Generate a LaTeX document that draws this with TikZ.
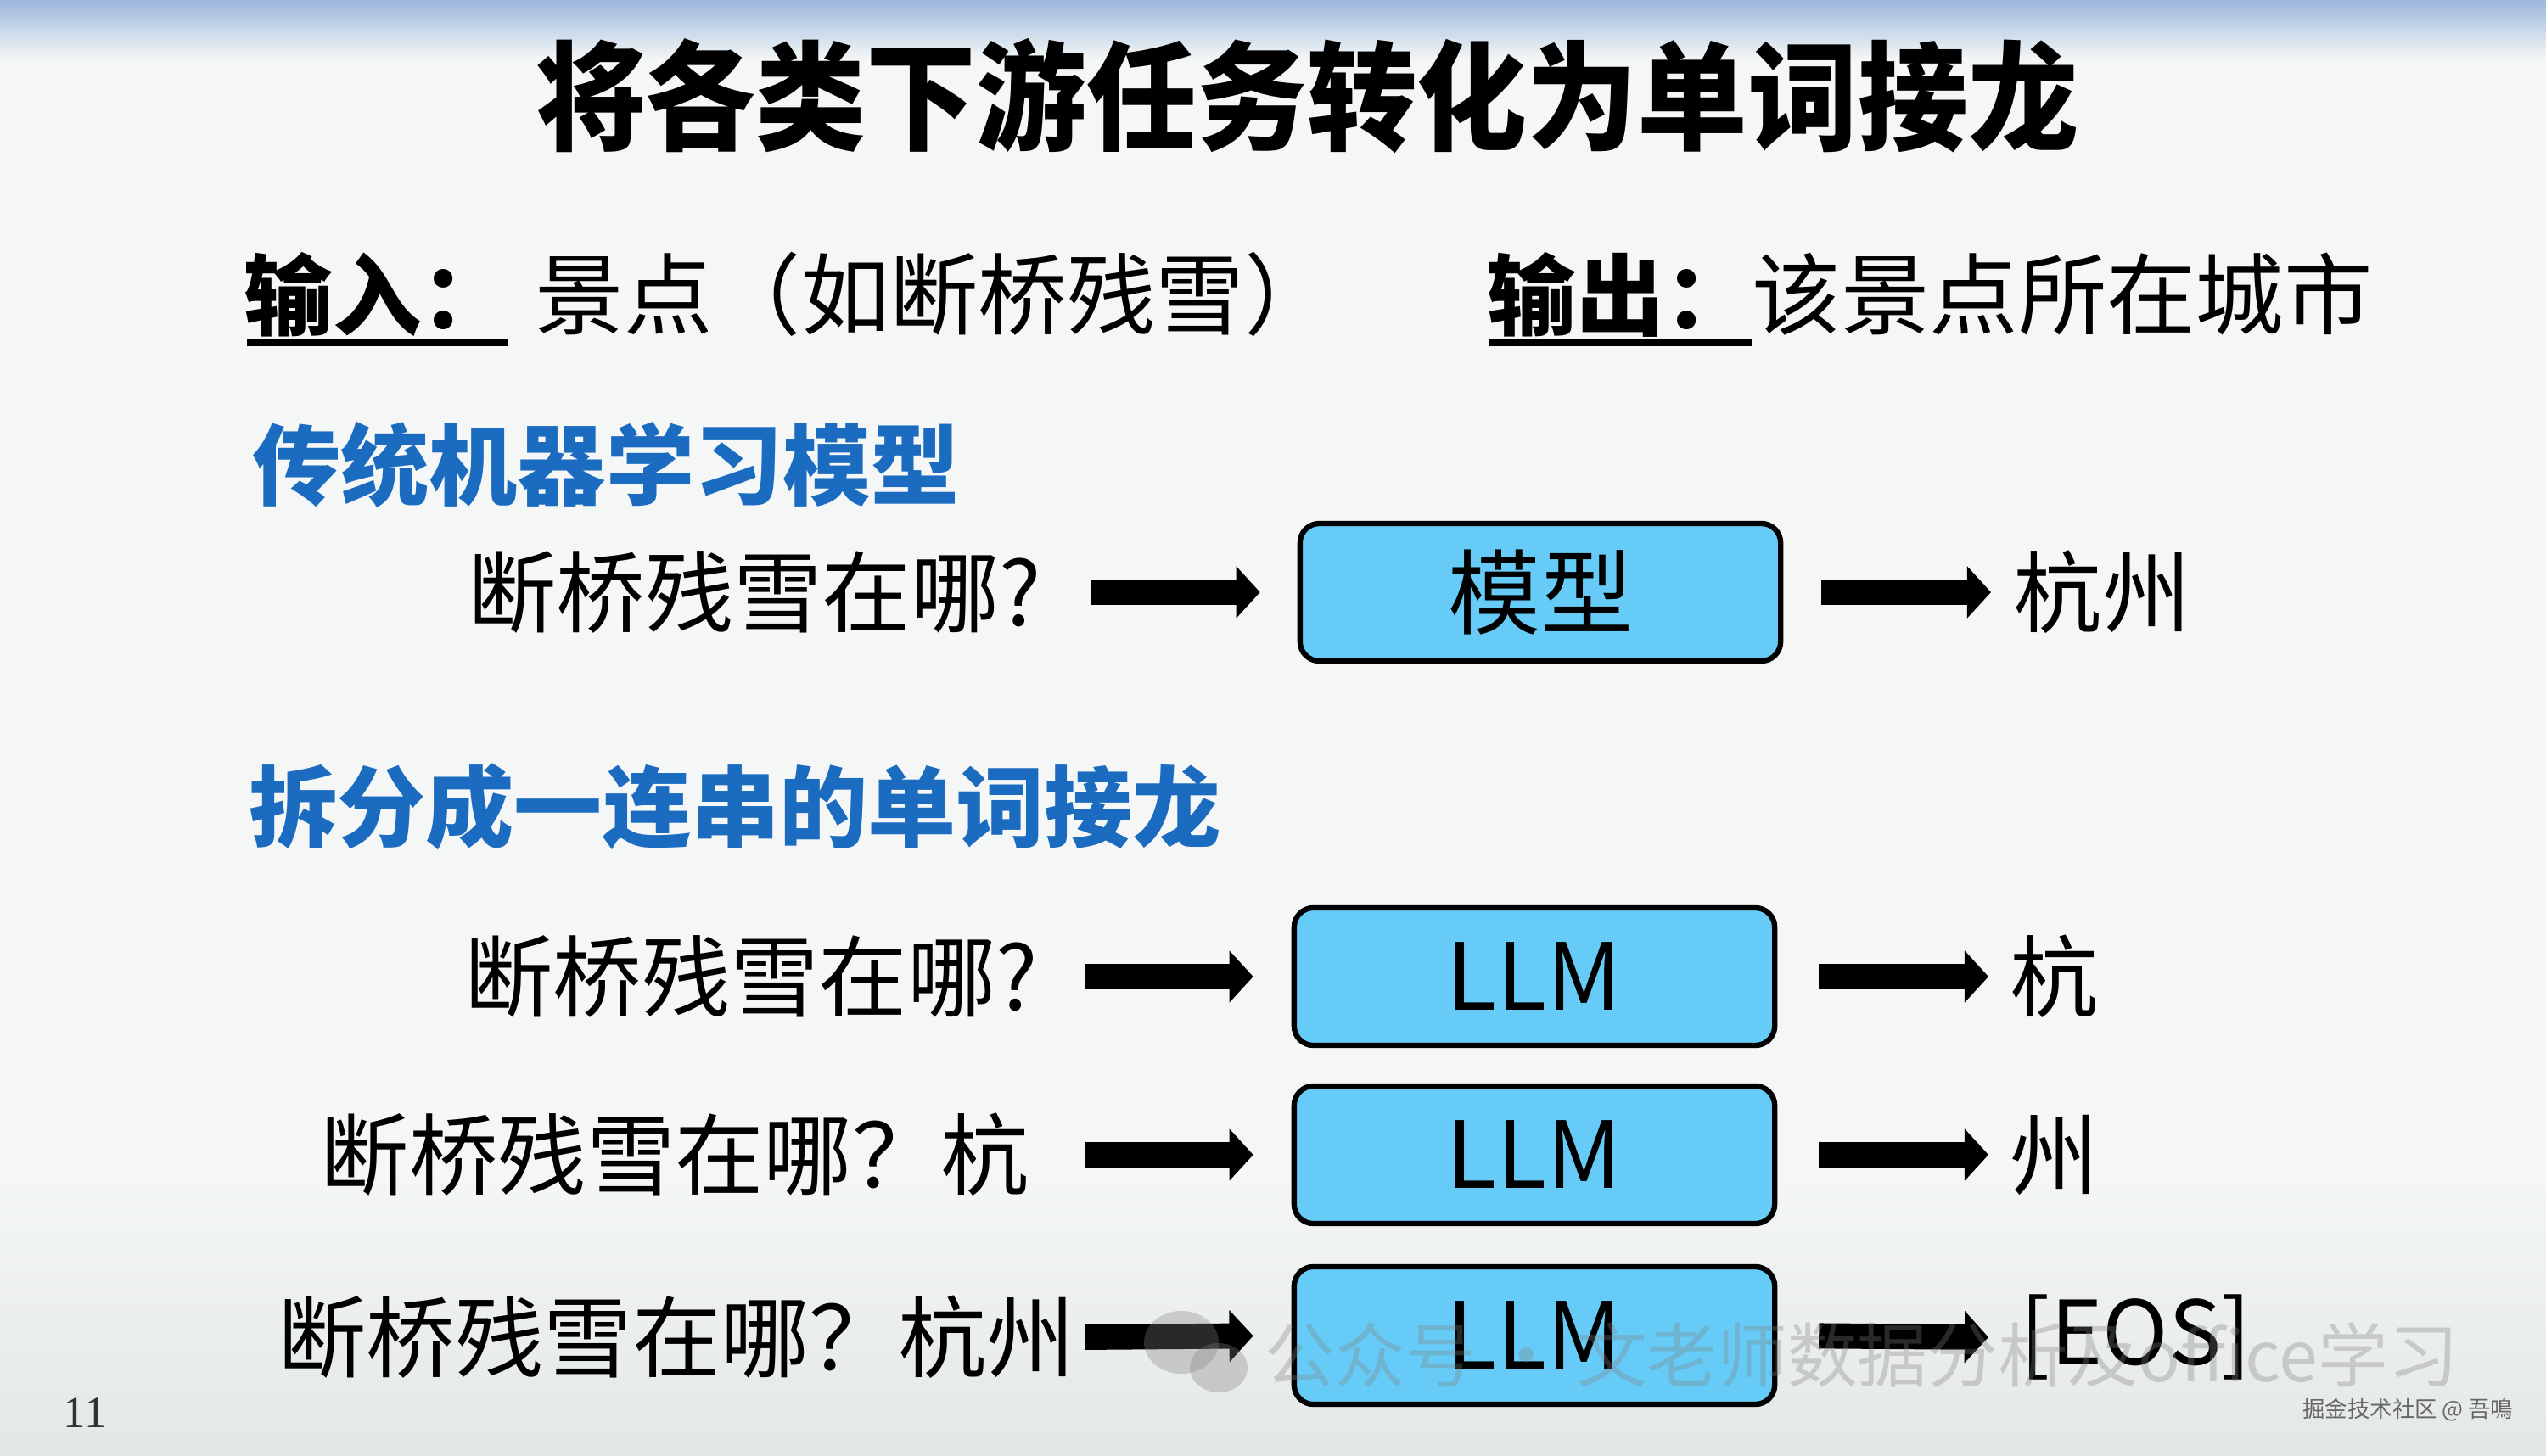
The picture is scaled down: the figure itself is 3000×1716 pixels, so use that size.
\documentclass[tikz,border=0pt]{standalone}
\usepackage{fontspec}
\setmainfont{Noto Sans CJK SC}
\setsansfont{Noto Sans CJK SC}
\newfontfamily\numfont{Liberation Serif}
\usetikzlibrary{arrows.meta,calc}
\definecolor{bgc}{HTML}{F4F7F6}
\definecolor{topblue}{HTML}{9DB7DC}
\definecolor{botgray}{HTML}{E3E7E5}
\definecolor{headblue}{HTML}{1B6CC0}
\definecolor{boxfill}{HTML}{66CCF7}
\tikzset{
  body/.style={inner sep=0pt, font=\fontsize{29.7pt}{29.7pt}\selectfont},
  head/.style={inner sep=0pt, text=headblue, font=\fontsize{29.6pt}{29.6pt}\selectfont\bfseries},
  modelbox/.style={draw=black, line width=1.8pt, fill=boxfill, rounded corners=6.5pt,
    minimum width=5.66cm, minimum height=1.62cm, inner sep=0pt,
    font=\fontsize{31pt}{31pt}\selectfont},
  bigarrow/.style={line width=8.5pt, black, -{Triangle[length=8pt,width=17pt]}},
  uline/.style={line width=2pt, black}
}
\begin{document}
\begin{tikzpicture}[x=0.01cm,y=-0.01cm]
% background
\fill[bgc] (0,0) rectangle (3000,1716);
\shade[top color=topblue, bottom color=bgc] (0,0) rectangle (3000,70);
\shade[top color=bgc, bottom color=botgray] (0,1380) rectangle (3000,1716);
\useasboundingbox (0,0) rectangle (3000,1716);

% title
\node[inner sep=0pt, font=\fontsize{39.7pt}{39.7pt}\selectfont\bfseries] (title) at (1540,113) {\scalebox{0.93}[1]{将各类下游任务转化为单词接龙}};

% input / output line
\node[body, anchor=west, font=\fontsize{29.7pt}{29.7pt}\selectfont\bfseries] (inlabel) at (287,347) {输入：};
\draw[uline] (291,404) -- (598,404);
\node[body, anchor=west] (intext) at (630,347) {景点（如断桥残雪）};
\node[body, anchor=west, font=\fontsize{29.7pt}{29.7pt}\selectfont\bfseries] (outlabel) at (1752,347) {输出：};
\draw[uline] (1754,404) -- (2064,404);
\node[body, anchor=west] (outtext) at (2064,347) {该景点所在城市};

% section 1
\node[head, anchor=west] (h1) at (297,548) {传统机器学习模型};
\node[body, anchor=east] (q0) at (1228,698) {断桥残雪在哪?};
\node[modelbox] (m0) at (1815,698) {模型};
\node[body, anchor=west] (o0) at (2372,698) {杭州};
\coordinate (s0) at (1286,698);
\coordinate (e0) at (2346,698);
\draw[bigarrow, shorten >=12.5pt] (s0) -- (m0.west);
\draw[bigarrow, shorten <=12.8pt] (m0.east) -- (e0);

% section 2
\node[head, anchor=west] (h2) at (293,951) {拆分成一连串的单词接龙};

\node[body, anchor=east] (q1) at (1224,1151) {断桥残雪在哪?};
\node[modelbox] (l1) at (1808,1151) {LLM};
\node[body, anchor=west] (o1) at (2368,1151) {杭};
\coordinate (s1) at (1279,1151);
\coordinate (e1) at (2343,1151);
\draw[bigarrow, shorten >=12.8pt] (s1) -- (l1.west);
\draw[bigarrow, shorten <=13.9pt] (l1.east) -- (e1);

\node[body, anchor=east] (q2) at (1214,1361) {断桥残雪在哪？杭};
\node[modelbox] (l2) at (1808,1361) {LLM};
\node[body, anchor=west] (o2) at (2368,1361) {州};
\coordinate (s2) at (1279,1361);
\coordinate (e2) at (2343,1361);
\draw[bigarrow, shorten >=12.8pt] (s2) -- (l2.west);
\draw[bigarrow, shorten <=13.9pt] (l2.east) -- (e2);

\node[body, anchor=east] (q3) at (1268,1576) {断桥残雪在哪？杭州};
\node[modelbox] (l3) at (1808,1574) {LLM};
\node[body, anchor=west] (o3) at (2380,1576) {[EOS]};
\coordinate (s3) at (1279,1576);
\coordinate (e3) at (2343,1576);
\draw[bigarrow, shorten >=12.8pt] (s3) -- (l3.west);
\draw[bigarrow, shorten <=13.9pt] (l3.east) -- (e3);

% page number
\node[inner sep=0pt, text=black!80, font=\numfont\fontsize{15pt}{15pt}\selectfont] (pagenum) at (100,1665) {11};

% watermarks
\begin{scope}[opacity=0.32]
\fill[gray] (1392,1582) ellipse [x radius=44, y radius=37];
\fill[gray] (1436,1612) ellipse [x radius=34, y radius=29];
\node[inner sep=0pt, anchor=west, text=gray, font=\fontsize{23.5pt}{23.5pt}\selectfont] (wm) at (1490,1597) {公众号 · 文老师数据分析及office学习};
\end{scope}
\node[inner sep=0pt, anchor=east, text=black!60, font=\fontsize{7.5pt}{7.5pt}\selectfont] (wm2) at (2962,1662) {掘金技术社区 @ 吾鳴};
\end{tikzpicture}
\end{document}
